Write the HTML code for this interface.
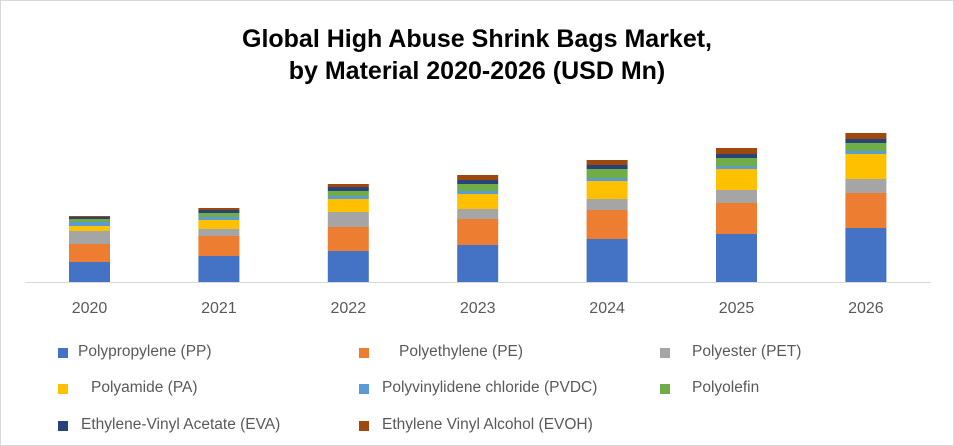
<!DOCTYPE html>
<html><head><meta charset="utf-8"><style>
body{margin:0;background:#fff}
#c{position:relative;width:952px;height:444px;border:1px solid #d9d9d9;background:#fff;font-family:"Liberation Sans",sans-serif;overflow:hidden}
.t{position:absolute;left:0;width:952px;text-align:center;font-weight:bold;font-size:25px;color:#000}
.lg{position:absolute;font-size:15.5px;color:#595959;white-space:pre}
.mk{position:absolute;width:10px;height:10px}
</style></head><body>
<div id="c">
<div class="t" style="top:24px">Global High Abuse Shrink Bags Market,</div>
<div class="t" style="top:56px">by Material 2020-2026 (USD Mn)</div>
<svg id="s" width="952" height="330" style="position:absolute;left:0;top:0"></svg>
<div id="leg"></div>
</div>
<script>
const years=["2020","2021","2022","2023","2024","2025","2026"];
const seriesNames=["Polypropylene (PP)","Polyethylene (PE)","Polyester (PET)","Polyamide (PA)","Polyvinylidene chloride (PVDC)","Polyolefin","Ethylene-Vinyl Acetate (EVA)","Ethylene Vinyl Alcohol (EVOH)"];
const colors=["#4472c4","#ed7d31","#a5a5a5","#ffc000","#5b9bd5","#70ad47","#264478","#9e480e"];
const pp=[20,26,31,37,43,48,54];
const pe=[18,20,24,26,29,31,35];
const pet=[13,7,15,10,11,13,14];
const pa=[5,9,13,15,18,21,25];
const pvdc=[4,3,3,3,3,3,3];
const polyolefin=[3,4,5,7,9,8,8];
const eva=[2,3,4,4,4,4,4];
const evoh=[1,2,3,5,5,6,6];
const series=[pp,pe,pet,pa,pvdc,polyolefin,eva,evoh];
const NS="http://www.w3.org/2000/svg";
const svg=document.getElementById('s');
const base=281, x0=23.8, bandW=129.4, barW=41;
const y=v=>v*1;
const xc=i=>x0+bandW*(i+0.5);
const ax=document.createElementNS(NS,'line');
ax.setAttribute('x1',24);ax.setAttribute('x2',930);ax.setAttribute('y1',base+0.5);ax.setAttribute('y2',base+0.5);
ax.setAttribute('stroke','#d9d9d9');ax.setAttribute('stroke-width','1');


svg.appendChild(ax);
years.forEach((yr,i)=>{
  let acc=0;
  series.forEach((s,k)=>{
    const r=document.createElementNS(NS,'rect');
    const h=y(s[i]);
    r.setAttribute('x',xc(i)-barW/2);r.setAttribute('y',base-acc-h);
    r.setAttribute('width',barW);r.setAttribute('height',h);r.setAttribute('fill',colors[k]);
    
    
    svg.appendChild(r);acc+=h;
  });
  const t=document.createElementNS(NS,'text');
  t.setAttribute('x',xc(i));t.setAttribute('y',312);t.setAttribute('text-anchor','middle');
  t.setAttribute('font-size','16');t.setAttribute('fill','#595959');t.setAttribute('font-family','Liberation Sans, sans-serif');
  t.textContent=yr;
  
  
  svg.appendChild(t);
});
const legPos=[[57,77,347],[358,398,347],[659,691,347],[57,90,383],[358,381,383],[659,691,383],[57,80,420],[358,381,420]];
const leg=document.getElementById('leg');
seriesNames.forEach((n,k)=>{
  const p=legPos[k];
  const m=document.createElement('div');m.className='mk';
  m.style.left=p[0]+'px';m.style.top=p[2]+'px';m.style.background=colors[k];
  
  
  leg.appendChild(m);
  const t=document.createElement('div');t.className='lg';
  t.style.left=p[1]+'px';t.style.top=(p[2]-5)+'px';t.textContent=n;
  
  
  leg.appendChild(t);
});
</script>
</body></html>
